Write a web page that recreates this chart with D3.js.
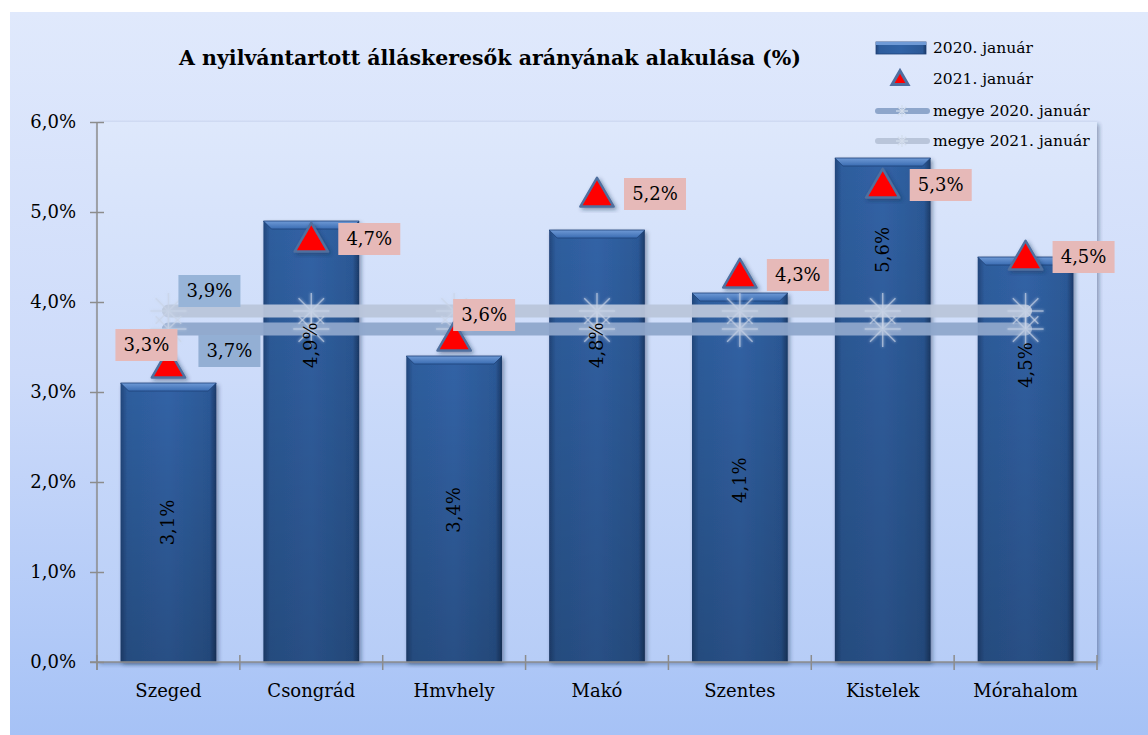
<!DOCTYPE html>
<html>
<head>
<meta charset="utf-8">
<script src="https://cdn.jsdelivr.net/npm/d3@7"></script>
<style>
  body { margin: 0; background: #fff; }
  svg { display: block; font-family: "DejaVu Serif", serif; }
</style>
</head>
<body>
<div id="chart"></div>
<script>
// data
var categories = ["Szeged", "Csongrád", "Hmvhely", "Makó", "Szentes", "Kistelek", "Mórahalom"];
var jan2020 = [3.1, 4.9, 3.4, 4.8, 4.1, 5.6, 4.5];
var jan2021 = [3.3, 4.7, 3.6, 5.2, 4.3, 5.3, 4.5];
var megye2020 = 3.7;
var megye2021 = 3.9;
var yTicks = [0, 1, 2, 3, 4, 5, 6];
var legendNames = ["2020. január", "2021. január", "megye 2020. január", "megye 2021. január"];

// where the bar value labels sit inside the bars (in % units, as placed in the original)
var barLabelAt = [1.55, 3.52, 1.69, 3.52, 2.02, 4.58, 3.3];

var W = 1148, H = 735;
var plot = { left: 97, right: 1097, top: 122, bottom: 662 };

var fmt = function (v) { return d3.format(".1f")(v).replace(".", ",") + "%"; };

var svg = d3.select("#chart").append("svg")
    .attr("width", W)
    .attr("height", H);

var defs = svg.append("defs");

function vGrad(id, stops) {
    var g = defs.append("linearGradient").attr("id", id)
        .attr("x1", 0).attr("y1", 0).attr("x2", 0).attr("y2", 1);
    stops.forEach(function (s) {
        g.append("stop").attr("offset", s[0]).attr("stop-color", s[1])
            .attr("stop-opacity", s[2] == null ? 1 : s[2]);
    });
}
vGrad("bg", [["0%", "#e0e9fc"], ["50%", "#cddbfa"], ["100%", "#a6c2f6"]]);
vGrad("plotbg", [["0%", "#dfe9fc"], ["100%", "#b8cef8"]]);
vGrad("barv", [["0%", "#000", 0], ["100%", "#000", 0.2]]);
vGrad("bartop", [["0%", "#6f9ad6"], ["100%", "#3a6cb2"]]);

var barGrad = defs.append("linearGradient").attr("id", "bar")
    .attr("x1", 0).attr("y1", 0).attr("x2", 1).attr("y2", 0);
[["0%", "#22467b"], ["7%", "#2e5d9d"], ["50%", "#3163a6"], ["93%", "#2c5997"], ["100%", "#1b3a68"]]
    .forEach(function (s) { barGrad.append("stop").attr("offset", s[0]).attr("stop-color", s[1]); });

var sh = defs.append("filter").attr("id", "shadow")
    .attr("x", "-20%").attr("y", "-20%").attr("width", "140%").attr("height", "140%");
sh.append("feDropShadow").attr("dx", 2).attr("dy", 2).attr("stdDeviation", 2)
    .attr("flood-color", "#1a2c50").attr("flood-opacity", 0.45);

var glow = defs.append("filter").attr("id", "glow")
    .attr("x", "-50%").attr("y", "-50%").attr("width", "200%").attr("height", "200%");
glow.append("feGaussianBlur").attr("in", "SourceGraphic").attr("stdDeviation", 1.5).attr("result", "b");
var gm = glow.append("feMerge");
gm.append("feMergeNode").attr("in", "b");
gm.append("feMergeNode").attr("in", "SourceGraphic");

// chart background
svg.append("rect").attr("x", 10).attr("y", 12).attr("width", W - 10).attr("height", H - 12)
    .attr("fill", "url(#bg)");

// plot area
svg.append("rect")
    .attr("x", plot.left).attr("y", plot.top)
    .attr("width", plot.right - plot.left).attr("height", plot.bottom - plot.top)
    .attr("fill", "url(#plotbg)")
    .attr("filter", "url(#shadow)")
    .attr("opacity", 0.9);

// title
svg.append("text")
    .attr("x", 490).attr("y", 65)
    .attr("text-anchor", "middle")
    .attr("font-size", 20.5).attr("font-weight", "bold")
    .attr("fill", "#000")
    .text("A nyilvántartott álláskeresők arányának alakulása (%)");

var x = d3.scaleBand()
    .domain(categories)
    .range([plot.left, plot.right])
    .paddingInner(0.33)
    .paddingOuter(0.165);

var y = d3.scaleLinear()
    .domain([0, 6])
    .range([plot.bottom, plot.top]);

var cx = function (c) { return x(c) + x.bandwidth() / 2; };

// y axis
var yAxis = svg.append("g")
    .attr("transform", "translate(" + plot.left + ",0)")
    .call(d3.axisLeft(y).tickValues(yTicks).tickFormat(fmt).tickSize(7).tickPadding(14));
yAxis.selectAll(".tick line").attr("x1", -7).attr("x2", 7);
yAxis.select(".domain").attr("d", "M0," + plot.top + "V" + (plot.bottom + 8));
yAxis.selectAll("path, line").attr("stroke", "#8c8c8c").attr("stroke-width", 1.5);
yAxis.selectAll("text").attr("font-size", 18).attr("fill", "#000").attr("font-family", "DejaVu Serif");

// bars
var bars = svg.append("g");
bars.selectAll("rect.bar")
    .data(jan2020)
    .join("rect")
    .attr("class", "bar")
    .attr("x", function (d, i) { return x(categories[i]); })
    .attr("y", function (d) { return y(d); })
    .attr("width", x.bandwidth())
    .attr("height", function (d) { return y(0) - y(d); })
    .attr("fill", "url(#bar)")
    .attr("filter", "url(#shadow)");
bars.selectAll("rect.shade")
    .data(jan2020)
    .join("rect")
    .attr("class", "shade")
    .attr("x", function (d, i) { return x(categories[i]); })
    .attr("y", function (d) { return y(d); })
    .attr("width", x.bandwidth())
    .attr("height", function (d) { return y(0) - y(d); })
    .attr("fill", "url(#barv)");
// top bevel
bars.selectAll("path.bevel")
    .data(jan2020)
    .join("path")
    .attr("class", "bevel")
    .attr("d", function (d, i) {
        var x0 = x(categories[i]), x1 = x0 + x.bandwidth(), t = y(d), b = 8;
        return "M" + x0 + "," + t + "H" + x1 + "L" + (x1 - b) + "," + (t + b) + "H" + (x0 + b) + "Z";
    })
    .attr("fill", "url(#bartop)")
    .attr("stroke", "#1f4279").attr("stroke-width", 0.8);

// x axis
var xAxis = svg.append("g");
xAxis.append("line")
    .attr("x1", plot.left - 7).attr("x2", plot.right)
    .attr("y1", plot.bottom).attr("y2", plot.bottom)
    .attr("stroke", "#8c8c8c").attr("stroke-width", 1.5);
var step = x.step();
xAxis.selectAll("line.tk")
    .data(d3.range(categories.length + 1))
    .join("line")
    .attr("class", "tk")
    .attr("x1", function (i) { return plot.left + i * step; })
    .attr("x2", function (i) { return plot.left + i * step; })
    .attr("y1", plot.bottom - 7).attr("y2", plot.bottom + 8)
    .attr("stroke", "#8c8c8c").attr("stroke-width", 1.5);
xAxis.selectAll("text")
    .data(categories)
    .join("text")
    .attr("x", function (c) { return cx(c); })
    .attr("y", plot.bottom + 35)
    .attr("text-anchor", "middle")
    .attr("font-size", 18)
    .attr("fill", "#000")
    .text(function (c) { return c; });

// county lines
var line = d3.line().x(function (d) { return cx(d.c); }).y(function (d) { return y(d.v); });
var megye = [
    { v: megye2021, color: "#b9c5da", label: "#97b4d8", dx: 10, dy: -20 },
    { v: megye2020, color: "#8ea6cb", label: "#93afd4", dx: 30, dy: 22 }
];

function asterisk(g, r) {
    [0, 45, 90, 135].forEach(function (deg) {
        var rad = deg * Math.PI / 180;
        g.append("line")
            .attr("x1", -r * Math.cos(rad)).attr("y1", -r * Math.sin(rad))
            .attr("x2", r * Math.cos(rad)).attr("y2", r * Math.sin(rad));
    });
}

var lines = svg.append("g");
megye.forEach(function (m) {
    var pts = categories.map(function (c) { return { c: c, v: m.v }; });
    lines.append("path")
        .datum(pts)
        .attr("d", line)
        .attr("fill", "none")
        .attr("stroke", m.color)
        .attr("stroke-width", 13)
        .attr("stroke-linecap", "round")
        .attr("opacity", 0.95);
});
megye.forEach(function (m) {
    categories.forEach(function (c) {
        var g = lines.append("g")
            .attr("transform", "translate(" + cx(c) + "," + y(m.v) + ")")
            .attr("stroke", "#c9d4e7").attr("stroke-width", 1.4)
            .attr("opacity", 0.75)
            .attr("filter", "url(#glow)");
        asterisk(g, 18);
    });
});

// bar value labels (rotated), above the lines
svg.append("g").selectAll("text")
    .data(jan2020)
    .join("text")
    .attr("transform", function (d, i) {
        return "translate(" + (cx(categories[i]) + 6) + "," + y(barLabelAt[i]) + ") rotate(-90)";
    })
    .attr("text-anchor", "middle")
    .attr("font-size", 18)
    .attr("fill", "#000")
    .text(function (d) { return fmt(d); });

// county labels
megye.forEach(function (m) {
    var lx = cx(categories[0]) + m.dx, ly = y(m.v) + m.dy;
    lines.append("rect")
        .attr("x", lx).attr("y", ly - 16).attr("width", 62).attr("height", 32)
        .attr("fill", m.label);
    lines.append("text")
        .attr("x", lx + 31).attr("y", ly + 6)
        .attr("text-anchor", "middle").attr("font-size", 18).attr("fill", "#000")
        .text(fmt(m.v));
});

// 2021 triangles
var tri = d3.symbol().type(d3.symbolTriangle).size(480);
var pts21 = svg.append("g");
pts21.selectAll("path")
    .data(jan2021)
    .join("path")
    .attr("d", tri)
    .attr("transform", function (d, i) { return "translate(" + cx(categories[i]) + "," + (y(d) + 3) + ")"; })
    .attr("fill", "#ff0000")
    .attr("stroke", "#4f6f9f")
    .attr("stroke-width", 2.5)
    .attr("stroke-linejoin", "round")
    .attr("filter", "url(#shadow)");

// 2021 labels: right of the marker, two moved by hand in the original
var labelShift = { 0: [-53, -20], 2: [-1, -23] };
pts21.selectAll("g")
    .data(jan2021)
    .join("g")
    .attr("transform", function (d, i) {
        var s = labelShift[i] || [27, 0];
        return "translate(" + (cx(categories[i]) + s[0]) + "," + (y(d) + s[1]) + ")";
    })
    .each(function (d) {
        var g = d3.select(this);
        g.append("rect").attr("x", 0).attr("y", -16).attr("width", 62).attr("height", 32)
            .attr("fill", "#e6b9b8");
        g.append("text").attr("x", 31).attr("y", 6)
            .attr("text-anchor", "middle").attr("font-size", 18).attr("fill", "#000")
            .text(fmt(d));
    });

// legend
var legend = svg.append("g").attr("transform", "translate(875,0)");
var ly = [48, 79, 111, 141];
legendNames.forEach(function (name, i) {
    legend.append("text")
        .attr("x", 58).attr("y", ly[i] + 5)
        .attr("font-size", 15.5).attr("fill", "#000")
        .text(name);
});
legend.append("rect").attr("x", 1).attr("y", ly[0] - 6).attr("width", 50).attr("height", 12)
    .attr("fill", "url(#bar)").attr("stroke", "#1f4279").attr("stroke-width", 0.8);
legend.append("rect").attr("x", 1).attr("y", ly[0] - 6).attr("width", 50).attr("height", 3)
    .attr("fill", "#6f9ad6");
legend.append("path")
    .attr("d", d3.symbol().type(d3.symbolTriangle).size(110))
    .attr("transform", "translate(25," + (ly[1] + 1) + ")")
    .attr("fill", "#ff0000").attr("stroke", "#4f6f9f").attr("stroke-width", 3);
[megye[1], megye[0]].forEach(function (m, i) {
    legend.append("line")
        .attr("x1", 3).attr("x2", 52)
        .attr("y1", ly[2 + i]).attr("y2", ly[2 + i])
        .attr("stroke", m.color).attr("stroke-width", 6).attr("stroke-linecap", "round");
    var g = legend.append("g")
        .attr("transform", "translate(27," + ly[2 + i] + ")")
        .attr("stroke", "#d3ddec").attr("stroke-width", 1.3);
    asterisk(g, 6);
});
</script>
</body>
</html>
